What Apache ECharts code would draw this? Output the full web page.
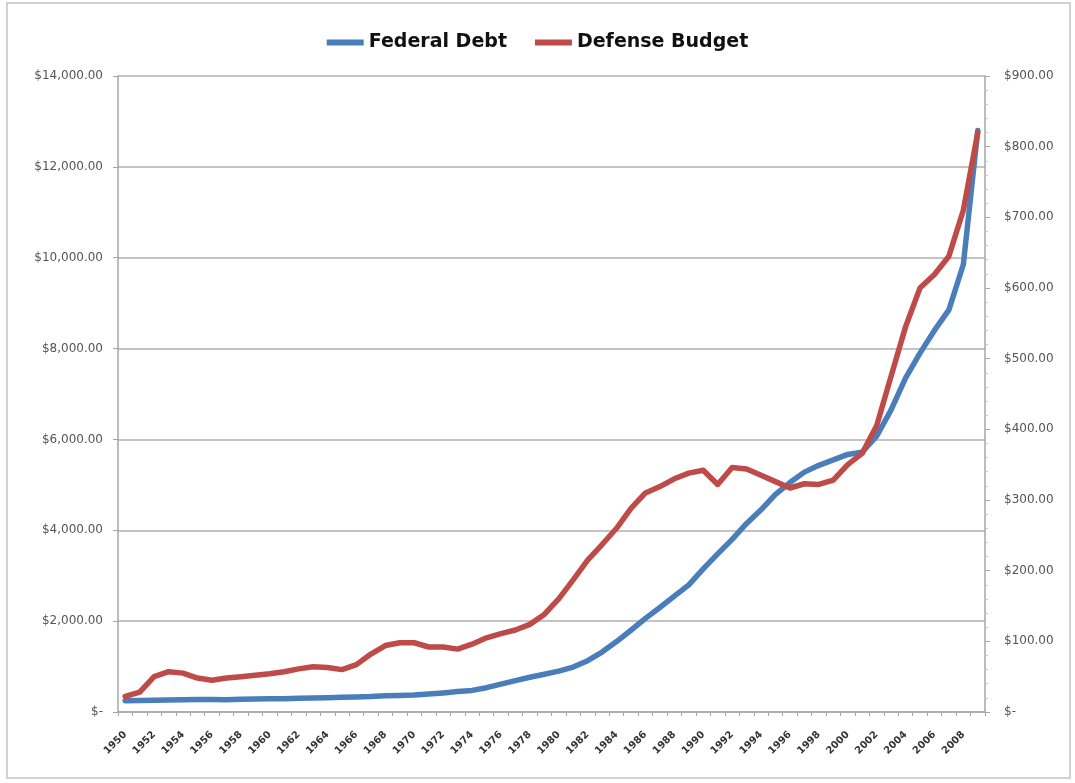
<!DOCTYPE html>
<html>
<head>
<meta charset="utf-8">
<title>Federal Debt and Defense Budget</title>
<script src="https://cdn.jsdelivr.net/npm/echarts@6/dist/echarts.min.js"></script>
<style>
  html, body { margin: 0; padding: 0; background: #ffffff; }
  #chart { width: 1075px; height: 783px; }
</style>
</head>
<body>
<div id="chart"></div>
<script>
// Fiscal years on the category axis
const years = [
  '1950','1951','1952','1953','1954','1955','1956','1957','1958','1959',
  '1960','1961','1962','1963','1964','1965','1966','1967','1968','1969',
  '1970','1971','1972','1973','1974','1975','1976','1977','1978','1979',
  '1980','1981','1982','1983','1984','1985','1986','1987','1988','1989',
  '1990','1991','1992','1993','1994','1995','1996','1997','1998','1999',
  '2000','2001','2002','2003','2004','2005','2006','2007','2008','2009'
];

// Federal debt, billions of dollars (left axis)
const federalDebt = [
  250, 255, 259, 266, 271, 274, 273, 272, 280, 287,
  290, 293, 303, 310, 316, 322, 328, 340, 360, 365,
  375, 395, 420, 450, 475, 535, 615, 690, 765, 830,
  900, 990, 1130, 1320, 1550, 1800, 2060, 2300, 2550, 2800,
  3150, 3480, 3800, 4150, 4450, 4790, 5050, 5280, 5430, 5550,
  5670, 5720, 6070, 6650, 7350, 7900, 8400, 8850, 9850, 12800
];

// Defense budget, billions of dollars (right axis)
const defenseBudget = [
  22, 28, 50, 57, 55, 48, 45, 48, 50, 52,
  54, 57, 61, 64, 63, 60, 67, 82, 94, 98,
  98, 92, 92, 89, 96, 105, 111, 116, 124, 138,
  160, 187, 215, 237, 260, 288, 310, 319, 330, 338,
  342, 322, 346, 344, 335, 326, 317, 323, 322, 328,
  350, 366, 405, 475, 545, 600, 619, 645, 710, 820
];

// Value-axis ranges
const debtAxis = { min: 0, max: 14000, interval: 2000 };
const defenseAxis = { min: 0, max: 900, interval: 100 };

const BLUE = '#4a7ebb';
const RED = '#be4b48';
const GRID = '#c4c4c4';
const AXIS = '#a6a6a6';

function money(v) {
  if (v === 0) return '$-';
  return '$' + v.toLocaleString('en-US', { minimumFractionDigits: 2, maximumFractionDigits: 2 });
}

const chart = echarts.init(document.getElementById('chart'), null, { renderer: 'canvas' });

chart.setOption({
  backgroundColor: '#ffffff',
  animation: false,
  graphic: [{
    type: 'rect',
    shape: { x: 7, y: 3, width: 1063, height: 775 },
    style: { fill: 'none', stroke: '#d2d2d2', lineWidth: 2 },
    silent: true,
    z: -1
  }],
  legend: {
    top: 28,
    left: 'center',
    itemWidth: 37,
    itemHeight: 6,
    itemGap: 28,
    icon: 'rect',
    textStyle: {
      fontFamily: 'DejaVu Sans',
      fontWeight: 'bold',
      fontSize: 19,
      color: '#111111'
    },
    data: ['Federal Debt', 'Defense Budget']
  },
  grid: { left: 118, right: 90, top: 76, bottom: 71, containLabel: false },
  xAxis: {
    type: 'category',
    data: years,
    boundaryGap: true,
    axisLine: { show: true, lineStyle: { color: AXIS, width: 1.5 } },
    axisTick: { show: true, interval: 0, length: 4, lineStyle: { color: AXIS } },
    axisLabel: {
      interval: 1,
      rotate: 45,
      margin: 21,
      fontFamily: 'DejaVu Sans',
      fontSize: 10,
      fontWeight: 'bold',
      color: '#333333'
    },
    splitLine: { show: false }
  },
  yAxis: [{
    type: 'value',
    position: 'left',
    min: debtAxis.min,
    max: debtAxis.max,
    interval: debtAxis.interval,
    axisLine: { show: true, lineStyle: { color: AXIS, width: 1.5 } },
    axisTick: { show: true, length: 5, lineStyle: { color: AXIS } },
    axisLabel: {
      formatter: money,
      margin: 15,
      fontFamily: 'DejaVu Sans',
      fontSize: 12,
      color: '#555555'
    },
    splitLine: { show: true, lineStyle: { color: GRID, width: 2 } }
  }, {
    type: 'value',
    position: 'right',
    min: defenseAxis.min,
    max: defenseAxis.max,
    interval: defenseAxis.interval,
    axisLine: { show: true, lineStyle: { color: AXIS, width: 1.5 } },
    axisTick: { show: true, length: 5, lineStyle: { color: AXIS } },
    minorTick: { show: true, splitNumber: 5, length: 3, lineStyle: { color: '#c8c8c8' } },
    axisLabel: {
      formatter: money,
      margin: 19,
      fontFamily: 'DejaVu Sans',
      fontSize: 12,
      color: '#555555'
    },
    splitLine: { show: false }
  }],
  series: [{
    name: 'Federal Debt',
    type: 'line',
    yAxisIndex: 0,
    data: federalDebt,
    symbol: 'none',
    itemStyle: { color: BLUE },
    lineStyle: { color: BLUE, width: 5.5, join: 'round', cap: 'round' },
    z: 2
  }, {
    name: 'Defense Budget',
    type: 'line',
    yAxisIndex: 1,
    data: defenseBudget,
    symbol: 'none',
    itemStyle: { color: RED },
    lineStyle: { color: RED, width: 5.5, join: 'round', cap: 'round' },
    z: 3
  }]
});
</script>
</body>
</html>
